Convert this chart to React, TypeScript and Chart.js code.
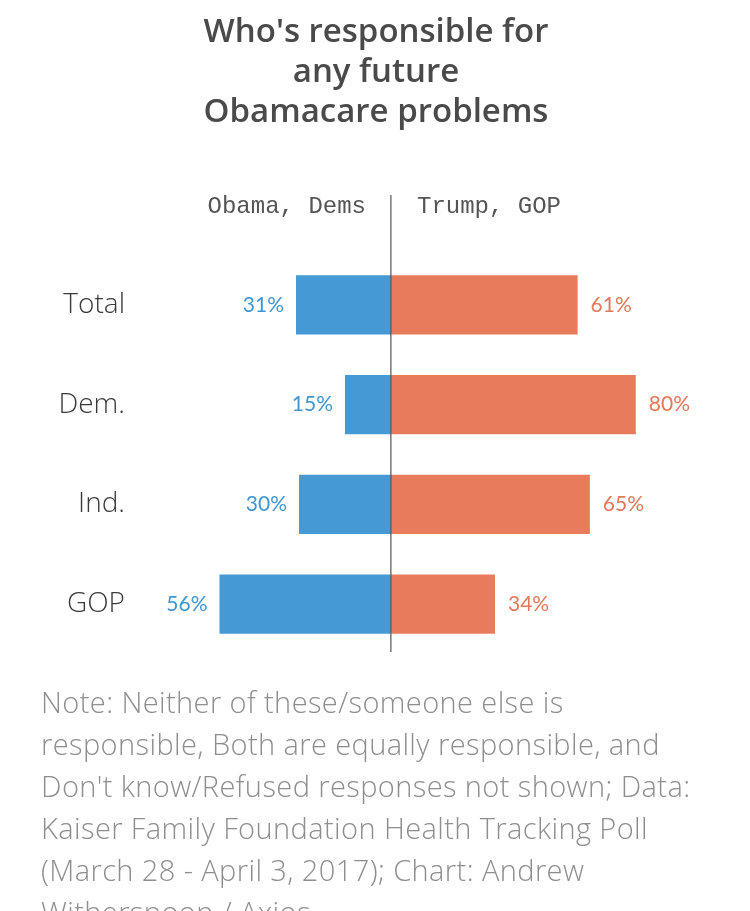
import React, { useEffect, useRef } from "react";
import { Chart, registerables } from "chart.js";

Chart.register(...registerables);

const categories = ["Total", "Dem.", "Ind.", "GOP"];
const obamaDems = [31, 15, 30, 56];
const trumpGop = [61, 80, 65, 34];
const titleLines = ["Who's responsible for", "any future", "Obamacare problems"];
const leftHeader = "Obama, Dems";
const rightHeader = "Trump, GOP";
const noteLines = [
  "Note: Neither of these/someone else is",
  "responsible, Both are equally responsible, and",
  "Don't know/Refused responses not shown; Data:",
  "Kaiser Family Foundation Health Tracking Poll",
  "(March 28 - April 3, 2017); Chart: Andrew",
  "Witherspoon / Axios",
];

const BLUE = "#4599d5";
const ORANGE = "#e87b5c";
const BLUE_TEXT = "#3f96d2";
const ORANGE_TEXT = "#e3785a";

const overlayPlugin = {
  id: "overlay",
  afterDatasetsDraw(chart: any) {
    const { ctx, scales, chartArea } = chart;
    const x0 = scales.x.getPixelForValue(0);
    ctx.save();
    ctx.strokeStyle = "#555";
    ctx.lineWidth = 1.2;
    ctx.beginPath();
    ctx.moveTo(x0, 195);
    ctx.lineTo(x0, chartArea.bottom - 2);
    ctx.stroke();

    ctx.font = "400 21px Lato";
    ctx.textBaseline = "middle";
    chart.data.datasets.forEach((ds: any, di: number) => {
      const meta = chart.getDatasetMeta(di);
      meta.data.forEach((bar: any, i: number) => {
        const v = Math.abs(ds.data[i]);
        const label = v + "%";
        if (di === 0) {
          ctx.fillStyle = BLUE_TEXT;
          ctx.textAlign = "right";
          ctx.fillText(label, bar.x - 12, bar.y);
        } else {
          ctx.fillStyle = ORANGE_TEXT;
          ctx.textAlign = "left";
          ctx.fillText(label, bar.x + 13, bar.y);
        }
      });
    });
    ctx.restore();
  },
};

export default function App() {
  const ref = useRef<HTMLCanvasElement | null>(null);
  useEffect(() => {
    if (!ref.current) return;
    const chart = new Chart(ref.current, {
      type: "bar",
      data: {
        labels: categories,
        datasets: [
          {
            label: leftHeader,
            data: obamaDems.map((v) => -v),
            backgroundColor: BLUE,
            barPercentage: 0.595,
            categoryPercentage: 1,
          },
          {
            label: rightHeader,
            data: trumpGop,
            backgroundColor: ORANGE,
            barPercentage: 0.595,
            categoryPercentage: 1,
          },
        ],
      },
      options: {
        indexAxis: "y",
        responsive: false,
        animation: false,
        devicePixelRatio: 1,
        layout: { padding: { top: 255, bottom: 257, right: 53, left: 0 } },
        plugins: {
          legend: { display: false },
          tooltip: { enabled: false },
          title: { display: false },
        },
        scales: {
          x: {
            display: false,
            stacked: true,
            min: -80,
            max: 100,
          },
          y: {
            stacked: true,
            grid: { display: false, drawTicks: false },
            border: { display: false },
            ticks: {
              color: "#3a3a3a",
              font: { family: "'Open Sans'", size: 28, weight: "300" },
              padding: 21,
            },
            afterFit(scale: any) {
              scale.width = 146;
            },
          },
        },
      },
      plugins: [overlayPlugin],
    } as any);
    return () => chart.destroy();
  }, []);

  return (
    <div
      style={{
        position: "absolute",
        left: 0,
        top: 0,
        width: 750,
        height: 911,
        overflow: "hidden",
        background: "#fff",
      }}
    >
      <canvas
        ref={ref}
        width={750}
        height={911}
        style={{ position: "absolute", left: 0, top: 0, width: 750, height: 911 }}
      />
      <div
        style={{
          position: "absolute",
          left: 0,
          top: 10,
          width: 752,
          textAlign: "center",
          fontFamily: "'Open Sans'",
          fontWeight: 600,
          fontSize: 33,
          lineHeight: "40px",
          color: "#4a4a4a",
          whiteSpace: "nowrap",
        }}
      >
        {titleLines.map((l, i) => (
          <div key={i}>{l}</div>
        ))}
      </div>
      <div
        style={{
          position: "absolute",
          right: 750 - 366,
          top: 193,
          fontFamily: "'Liberation Mono', monospace",
          fontSize: 24,
          lineHeight: "28px",
          color: "#555",
          whiteSpace: "pre",
        }}
      >
        {leftHeader}
      </div>
      <div
        style={{
          position: "absolute",
          left: 417,
          top: 193,
          fontFamily: "'Liberation Mono', monospace",
          fontSize: 24,
          lineHeight: "28px",
          color: "#555",
          whiteSpace: "pre",
        }}
      >
        {rightHeader}
      </div>
      <div
        style={{
          position: "absolute",
          left: 41,
          top: 681,
          fontFamily: "'Open Sans'",
          fontWeight: 300,
          fontSize: 29,
          letterSpacing: 0.4,
          lineHeight: "42px",
          color: "#8e8e8e",
          whiteSpace: "nowrap",
        }}
      >
        {noteLines.map((l, i) => (
          <div key={i}>{l}</div>
        ))}
      </div>
    </div>
  );
}
